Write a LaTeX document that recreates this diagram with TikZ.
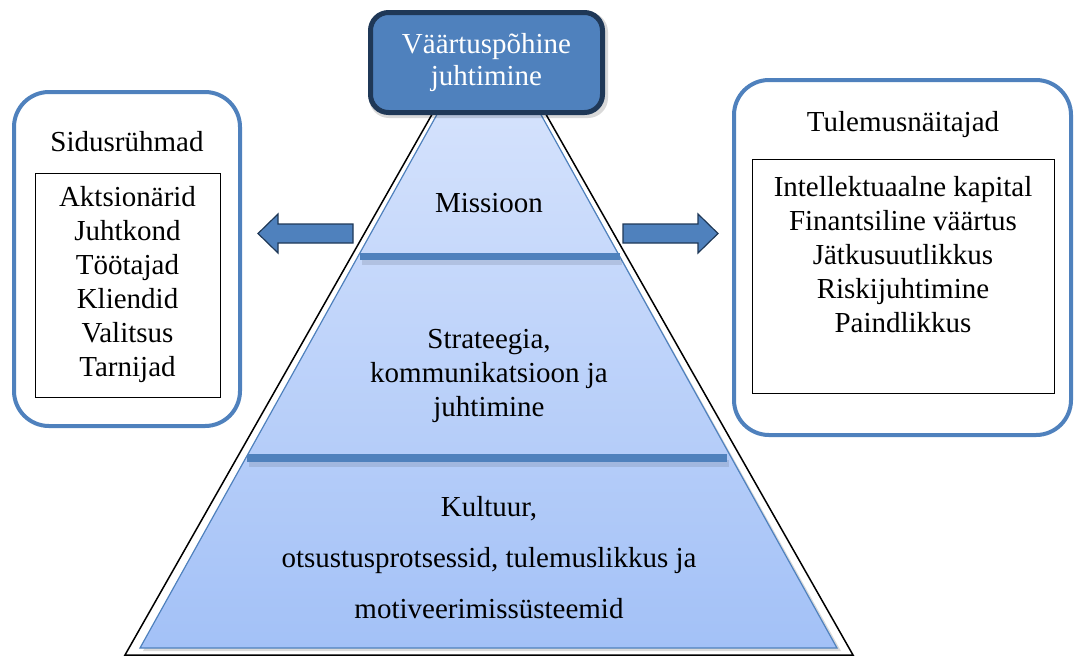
\documentclass[tikz,border=0pt]{standalone}
\usepackage{fontspec}
\setmainfont{Liberation Serif}
\definecolor{accent}{HTML}{4F81BD}
\definecolor{navy}{HTML}{1F3857}
\definecolor{pyrtop}{RGB}{220,231,253}
\definecolor{pyrbot}{RGB}{163,193,247}
\begin{document}
\begin{tikzpicture}[x=1pt,y=-1pt,
  txt/.style={font=\fontsize{29}{34}\selectfont, align=center, inner sep=0pt},
  wtxt/.style={font=\fontsize{29}{51}\selectfont, align=center, inner sep=0pt},
  outerbox/.style={draw=accent, line width=4pt, rounded corners=35pt, fill=white},
  innerbox/.style={draw=black, line width=1pt, fill=white},
  barshape/.style={fill=accent},
  barshadow/.style={fill=black, opacity=0.1},
  blockarrow/.style={fill=accent, draw=navy, line width=1.2pt, line join=miter},
  topbox/.style={fill=accent, draw=navy, line width=5pt, rounded corners=18pt,
    minimum width=232pt, minimum height=100pt, align=center, text=white,
    font=\fontsize{29}{32}\selectfont, inner sep=0pt}
]
\useasboundingbox (0,0) rectangle (1075,657);

% pyramid outline
\draw[black, line width=1.5pt, line join=miter] (489,14) -- (125,655) -- (853,655) -- cycle;
% shadow and blue pyramid
\fill[black, opacity=0.15] (491,25) -- (143,651) -- (841,651) -- cycle;
\shade[top color=pyrtop, bottom color=pyrbot] (489,21) -- (140,648) -- (837,648) -- cycle;
\draw[accent, line width=1.2pt] (489,21) -- (140,648) -- (837,648) -- cycle;

% divider bars
\fill[barshadow] (362,259) rectangle (622,265);
\fill[barshape] (360,253) rectangle (620,260);
\fill[barshadow] (249,460) rectangle (729,467);
\fill[barshape] (247,454) rectangle (727,462);

% pyramid texts
\node[txt] (mission) at (489,203) {Missioon};
\node[txt] (strategy) at (489,376) {Strateegia,\\kommunikatsioon ja\\juhtimine};
\node[wtxt] (culture) at (489,558) {Kultuur,\\otsustusprotsessid, tulemuslikkus ja\\motiveerimissüsteemid};

% top box
\fill[black, opacity=0.15, rounded corners=20pt] (369,12) rectangle (608,118);
\node[topbox] (top) at (486.5,62.5) {Väärtuspõhine\\juhtimine};

% left box
\node[outerbox, minimum width=226pt, minimum height=334pt] (leftbox) at (127,259) {};
\node[txt] (lefttitle) at (127,142) {Sidusrühmad};
\node[innerbox, txt, minimum width=185pt, minimum height=224pt] (leftlist) at (127.5,285)
  {Aktsionärid\\Juhtkond\\Töötajad\\Kliendid\\Valitsus\\Tarnijad};

% right box
\node[outerbox, minimum width=337pt, minimum height=355pt] (rightbox) at (902.5,257.5) {};
\node[txt] (righttitle) at (903,125) {Tulemusnäitajad};
\node[innerbox, minimum width=302pt, minimum height=234pt] (rightinner) at (903,276) {};
\node[txt] (rightlist) at (903,255)
  {Intellektuaalne kapital\\Finantsiline väärtus\\Jätkusuutlikkus\\Riskijuhtimine\\Paindlikkus};

% block arrows
\draw[blockarrow] (353,224) -- (278,224) -- (278,214) -- (258,233.5) -- (278,253) -- (278,243) -- (353,243) -- cycle;
\draw[blockarrow] (623,224) -- (698,224) -- (698,214) -- (718,233.5) -- (698,253) -- (698,243) -- (623,243) -- cycle;
\end{tikzpicture}
\end{document}
